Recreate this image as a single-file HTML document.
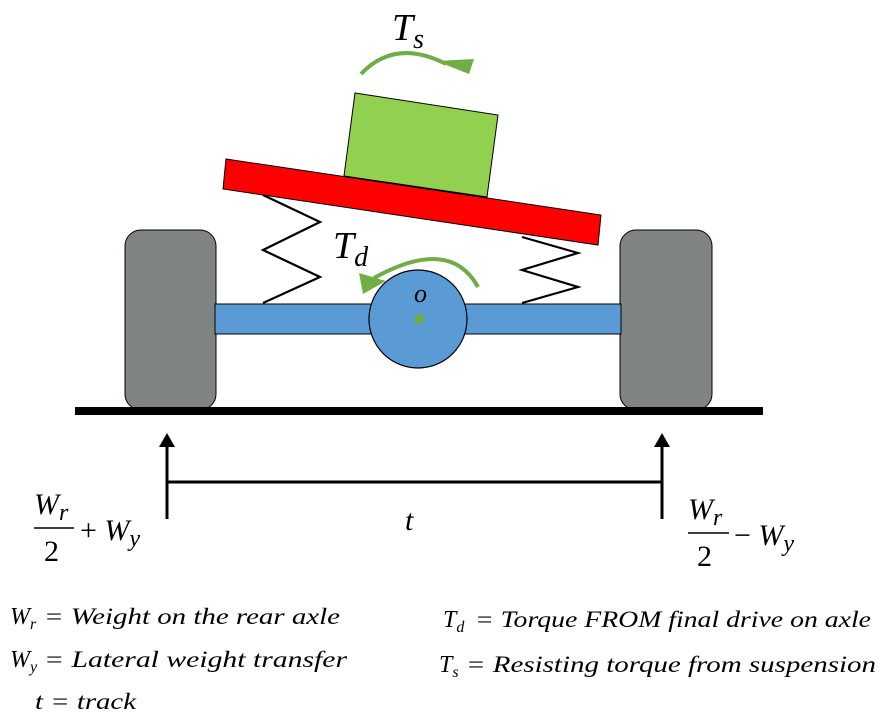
<!DOCTYPE html>
<html><head><meta charset="utf-8"><style>
html,body{margin:0;padding:0;background:#fff;}
svg{display:block;}
text{font-family:"Liberation Serif",serif;font-style:italic;fill:#000;}
.n{font-style:normal;}
</style></head><body>
<svg width="887" height="713" viewBox="0 0 887 713" xmlns="http://www.w3.org/2000/svg">
<rect x="125" y="230" width="91" height="180" rx="16" fill="#7f8382" stroke="#000" stroke-width="1"/>
<rect x="620" y="230" width="92" height="180" rx="16" fill="#7f8382" stroke="#000" stroke-width="1"/>
<rect x="215" y="304" width="406" height="30" fill="#5b9bd5" stroke="#000" stroke-width="1"/>
<circle cx="418" cy="319" r="49" fill="#5b9bd5" stroke="#000" stroke-width="1.2"/>
<circle cx="419" cy="319" r="5" fill="#70ad47"/>
<text x="414" y="302" font-size="26">o</text>
<polyline points="263,195 320,222 263,250 320,277 263,303" fill="none" stroke="#000" stroke-width="2.2"/>
<polyline points="522,237 578,253 522,270 578,287 522,303" fill="none" stroke="#000" stroke-width="2.2"/>
<polygon points="355,93 498,115 487,197 344,176" fill="#92d050" stroke="#000" stroke-width="1"/>
<polygon points="226,159 601,215 598,245 223,189" fill="#ff0000" stroke="#000" stroke-width="1"/>
<!-- Ts arrow -->
<path d="M361,74 Q395,38 446,64" fill="none" stroke="#70ad47" stroke-width="4"/>
<polygon points="436,61 474,59 469,74" fill="#70ad47"/>
<text x="392" y="40" font-size="38">T<tspan font-size="28" dy="8">s</tspan></text>
<!-- Td arrow -->
<path d="M478,287 Q450,236 374,278" fill="none" stroke="#70ad47" stroke-width="4"/>
<polygon points="359,273 386,281 363,294" fill="#70ad47"/>
<text x="333" y="258" font-size="38">T<tspan font-size="28" dy="8">d</tspan></text>
<rect x="75" y="407" width="688" height="8" fill="#000"/>
<line x1="167" y1="445" x2="167" y2="519" stroke="#000" stroke-width="3"/>
<polygon points="159,447 175,447 167,433" fill="#000"/>
<line x1="662" y1="445" x2="662" y2="519" stroke="#000" stroke-width="3"/>
<polygon points="654,447 670,447 662,433" fill="#000"/>
<line x1="167" y1="482" x2="662" y2="482" stroke="#000" stroke-width="3"/>
<text x="405" y="530" font-size="30">t</text>
<text x="34" y="514" font-size="30">W<tspan font-size="24" dy="6">r</tspan></text>
<line x1="34" y1="528" x2="74" y2="528" stroke="#000" stroke-width="1.5"/>
<text x="44" y="561" font-size="30" class="n">2</text>
<text x="80" y="540" font-size="30"><tspan class="n">+</tspan> W<tspan font-size="24" dy="6">y</tspan></text>
<text x="688" y="519" font-size="30">W<tspan font-size="24" dy="6">r</tspan></text>
<line x1="688" y1="533" x2="729" y2="533" stroke="#000" stroke-width="1.5"/>
<text x="697" y="566" font-size="30" class="n">2</text>
<text x="734" y="545" font-size="30"><tspan class="n">−</tspan> W<tspan font-size="24" dy="6">y</tspan></text>
<!-- legend -->
<text x="10" y="624" font-size="24">W<tspan font-size="16" dy="5">r</tspan></text>
<text x="44" y="624" font-size="23" textLength="296" lengthAdjust="spacingAndGlyphs">= Weight on the rear axle</text>
<text x="10" y="667" font-size="24">W<tspan font-size="16" dy="5">y</tspan></text>
<text x="44" y="667" font-size="23" textLength="303" lengthAdjust="spacingAndGlyphs">= Lateral weight transfer</text>
<text x="35" y="709" font-size="23" textLength="101" lengthAdjust="spacingAndGlyphs">t = track</text>
<text x="443" y="627" font-size="24">T<tspan font-size="16" dy="5">d</tspan></text>
<text x="475" y="627" font-size="23" textLength="396" lengthAdjust="spacingAndGlyphs">= Torque FROM final drive on axle</text>
<text x="439" y="672" font-size="24">T<tspan font-size="16" dy="5">s</tspan></text>
<text x="466" y="672" font-size="23" textLength="410" lengthAdjust="spacingAndGlyphs">= Resisting torque from suspension</text>
</svg>
</body></html>
